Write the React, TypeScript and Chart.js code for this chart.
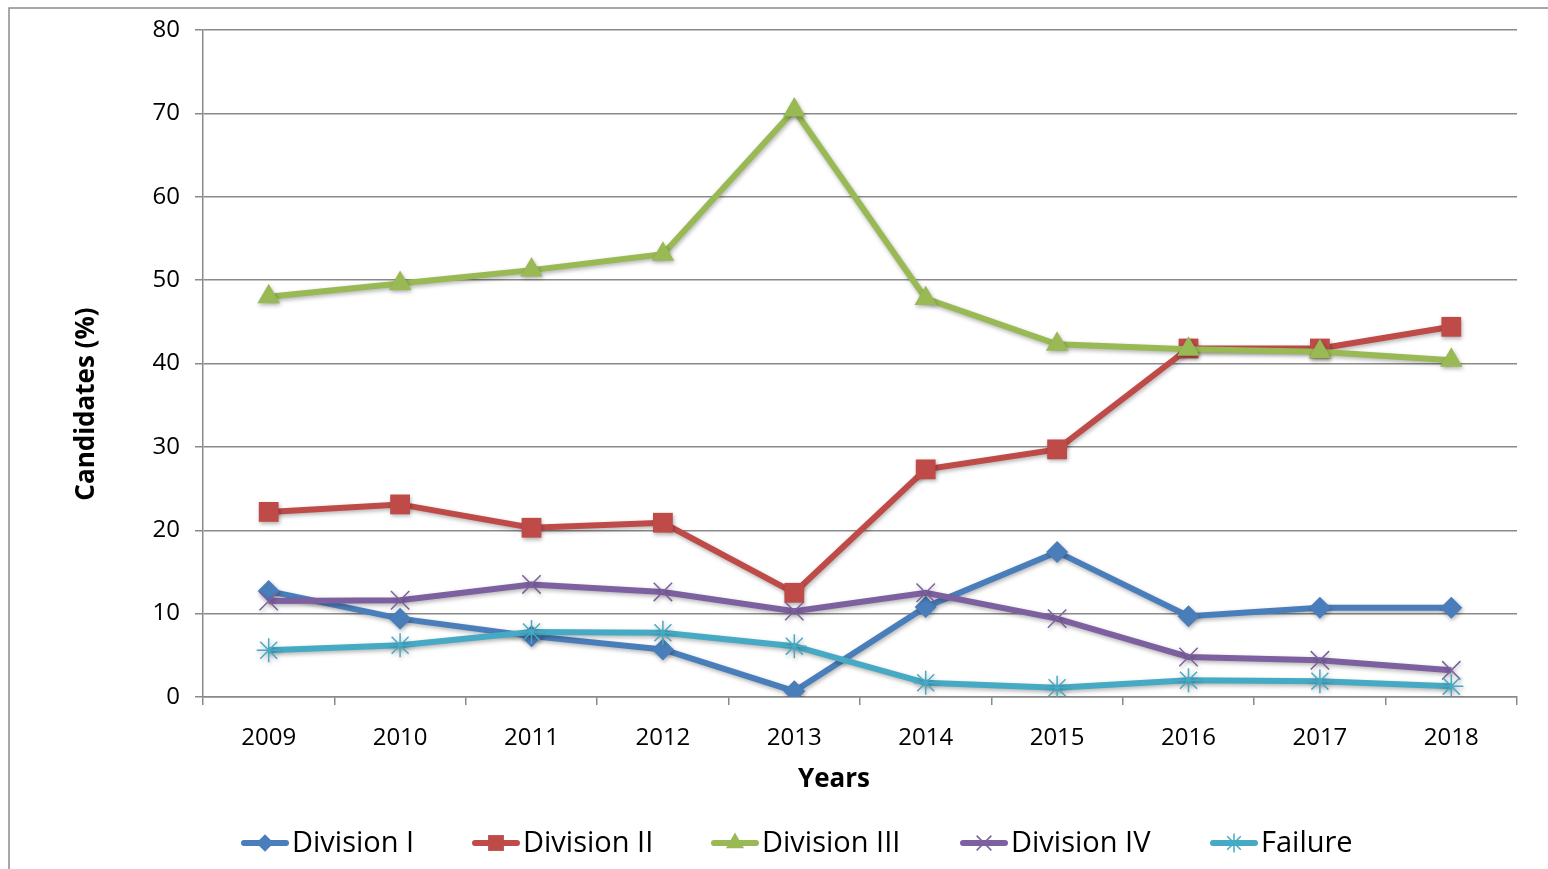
import React, { useEffect, useRef } from "react";
import { Chart, registerables } from "chart.js";

Chart.register(...registerables);

const years = ["2009", "2010", "2011", "2012", "2013", "2014", "2015", "2016", "2017", "2018"];
const divisionI = [12.7, 9.4, 7.3, 5.7, 0.7, 10.8, 17.4, 9.7, 10.7, 10.7];
const divisionII = [22.2, 23.1, 20.3, 20.9, 12.5, 27.3, 29.7, 41.8, 41.8, 44.4];
const divisionIII = [48.0, 49.6, 51.2, 53.1, 70.4, 47.8, 42.3, 41.7, 41.4, 40.4];
const divisionIV = [11.5, 11.6, 13.5, 12.6, 10.3, 12.5, 9.4, 4.8, 4.4, 3.2];
const failure = [5.6, 6.2, 7.8, 7.7, 6.1, 1.7, 1.1, 2.0, 1.9, 1.3];
const yTicks = [0, 10, 20, 30, 40, 50, 60, 70, 80];

const seriesNames = ["Division I", "Division II", "Division III", "Division IV", "Failure"];
const seriesData = [divisionI, divisionII, divisionIII, divisionIV, failure];
const seriesColors = ["#4A7EBB", "#BE4B48", "#98B954", "#7D60A0", "#46AAC5"];
const seriesPoints = ["rectRot", "rect", "triangle", "crossRot", "star"];
const seriesRadius = [11, 14, 13, 13, 12];
const legendLineX = [241, 472, 711, 960, 1210];

const FONT = "'Open Sans', 'Noto Sans', sans-serif";
const GRID = "#8a8a8a";

export default function App() {
  const ref = useRef<HTMLCanvasElement | null>(null);

  useEffect(() => {
    if (!ref.current) return;

    function drawMarker(ctx: CanvasRenderingContext2D, st: string, x: number, y: number, r: number) {
      ctx.beginPath();
      if (st === "rectRot") {
        ctx.moveTo(x - r, y);
        ctx.lineTo(x, y - r);
        ctx.lineTo(x + r, y);
        ctx.lineTo(x, y + r);
        ctx.closePath();
        ctx.fill();
      } else if (st === "rect") {
        const s = r * Math.SQRT1_2;
        ctx.rect(x - s, y - s, 2 * s, 2 * s);
        ctx.fill();
      } else if (st === "triangle") {
        for (let k = 0; k < 3; k++) {
          const a = (k * 2 * Math.PI) / 3;
          const px = x + Math.sin(a) * r;
          const py = y - Math.cos(a) * r;
          if (k === 0) ctx.moveTo(px, py);
          else ctx.lineTo(px, py);
        }
        ctx.closePath();
        ctx.fill();
      } else {
        const d = r * Math.SQRT1_2;
        ctx.moveTo(x - d, y - d);
        ctx.lineTo(x + d, y + d);
        ctx.moveTo(x + d, y - d);
        ctx.lineTo(x - d, y + d);
        if (st === "star") {
          ctx.moveTo(x, y - r);
          ctx.lineTo(x, y + r);
        }
        ctx.stroke();
      }
    }

    const decor = {
      id: "decor",
      beforeDatasetsDraw(chart: any) {
        const ctx = chart.ctx;
        ctx.save();
        ctx.shadowColor = "rgba(0,0,0,0.3)";
        ctx.shadowBlur = 4;
        ctx.shadowOffsetX = 1;
        ctx.shadowOffsetY = 2;
      },
      afterDatasetsDraw(chart: any) {
        chart.ctx.restore();
      },
      afterDraw(chart: any) {
        const ctx = chart.ctx;
        ctx.save();
        ctx.strokeStyle = "#8c8c8c";
        ctx.lineWidth = 1.5;
        ctx.strokeRect(9, 8, 1600, 900);
        ctx.fillStyle = "#000";
        ctx.font = `bold 26px ${FONT}`;
        ctx.textAlign = "center";
        ctx.textBaseline = "middle";
        ctx.fillText("Years", 834, 780);
        ctx.save();
        ctx.translate(87, 404);
        ctx.rotate(-Math.PI / 2);
        ctx.font = `bold 26px ${FONT}`;
        ctx.fillText("Candidates (%)", 0, 0);
        ctx.restore();
        for (let i = 0; i < seriesNames.length; i++) {
          const x0 = legendLineX[i];
          const y = 843;
          ctx.strokeStyle = seriesColors[i];
          ctx.lineWidth = 6;
          ctx.lineCap = "round";
          ctx.beginPath();
          ctx.moveTo(x0 + 3, y);
          ctx.lineTo(x0 + 45, y);
          ctx.stroke();
          ctx.fillStyle = seriesColors[i];
          ctx.lineCap = "butt";
          ctx.lineWidth = 1.5;
          drawMarker(ctx, seriesPoints[i], x0 + 24, y, seriesRadius[i] * 0.8);
          ctx.fillStyle = "#000";
          ctx.font = `29px ${FONT}`;
          ctx.textAlign = "left";
          ctx.textBaseline = "alphabetic";
          ctx.fillText(seriesNames[i], x0 + 51, 852);
        }
        ctx.restore();
      },
    };

    const chart = new Chart(ref.current, {
      type: "line",
      data: {
        labels: years,
        datasets: seriesNames.map((name, i) => ({
          label: name,
          data: seriesData[i],
          borderColor: seriesColors[i],
          backgroundColor: seriesColors[i],
          borderWidth: 6,
          pointStyle: seriesPoints[i] as any,
          pointRadius: seriesRadius[i],
          pointBorderWidth: i >= 3 ? 1.5 : 0,
          pointBorderColor: seriesColors[i],
          pointBackgroundColor: seriesColors[i],
          tension: 0,
          order: 5 - i,
        })),
      },
      options: {
        responsive: false,
        animation: false,
        layout: { padding: { left: 0, top: 30, right: 31, bottom: 0 } },
        plugins: { legend: { display: false }, tooltip: { enabled: false } },
        scales: {
          x: {
            type: "category",
            offset: true,
            grid: { display: true, drawOnChartArea: false, drawTicks: true, tickLength: 8, color: GRID, lineWidth: 1.5, offset: true },
            border: { display: true, color: GRID, width: 1.5 },
            ticks: { color: "#000", font: { family: FONT, size: 24 }, padding: 19, maxRotation: 0 },
            afterFit: (s: any) => {
              s.height = 172;
            },
          },
          y: {
            min: 0,
            max: 80,
            afterBuildTicks: (s: any) => {
              s.ticks = yTicks.map((v) => ({ value: v }));
            },
            grid: { color: GRID, lineWidth: 1.5, tickLength: 8, drawTicks: true },
            border: { display: true, color: GRID, width: 1.5 },
            ticks: { color: "#000", font: { family: FONT, size: 24 }, padding: 15 },
            afterFit: (s: any) => {
              s.width = 203;
            },
          },
        },
      },
      plugins: [decor],
    } as any);
    return () => chart.destroy();
  }, []);

  return (
    <div style={{ position: "absolute", left: 0, top: 0, width: 1548, height: 869, background: "#fff" }}>
      <canvas ref={ref} width={1548} height={869} style={{ display: "block", width: 1548, height: 869 }} />
    </div>
  );
}
